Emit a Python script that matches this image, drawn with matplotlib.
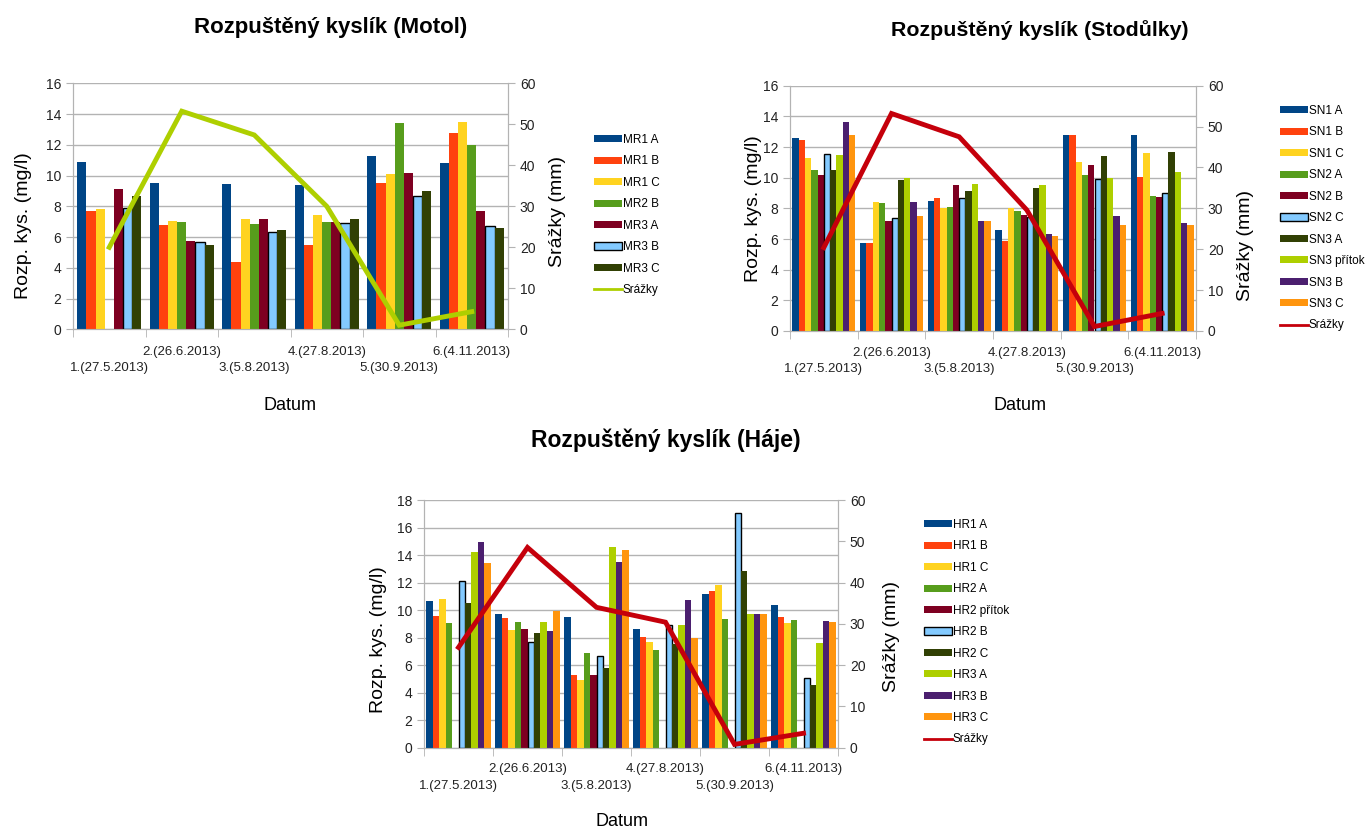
import numpy as np
import matplotlib
matplotlib.use("Agg")
import matplotlib.pyplot as plt
from matplotlib.patches import Patch
from matplotlib.lines import Line2D
from matplotlib.ticker import MultipleLocator, FixedLocator, NullFormatter
from matplotlib.transforms import blended_transform_factory

nan = np.nan

# ---------------- data ----------------
dates = ['1.(27.5.2013)', '2.(26.6.2013)', '3.(5.8.2013)',
         '4.(27.8.2013)', '5.(30.9.2013)', '6.(4.11.2013)']

motol_names = ['MR1 A', 'MR1 B', 'MR1 C', 'MR2 B', 'MR3 A', 'MR3 B', 'MR3 C']
motol_values = [
    [10.9, 9.5, 9.45, 9.4, 11.3, 10.8],
    [7.7, 6.8, 4.4, 5.5, 9.5, 12.75],
    [7.8, 7.05, 7.2, 7.45, 10.1, 13.5],
    [nan, 7.0, 6.85, 7.0, 13.4, 12.0],
    [9.1, 5.75, 7.15, 7.0, 10.15, 7.7],
    [7.9, 5.65, 6.35, 6.9, 8.7, 6.75],
    [8.7, 5.5, 6.45, 7.15, 9.0, 6.6],
]
motol_rain = [20.0, 53.2, 47.4, 30.0, 1.0, 4.3]

stod_names = ['SN1 A', 'SN1 B', 'SN1 C', 'SN2 A', 'SN2 B', 'SN2 C',
              'SN3 A', 'SN3 přítok', 'SN3 B', 'SN3 C']
stod_values = [
    [12.6, 5.75, 8.5, 6.6, 12.8, 12.8],
    [12.45, 5.75, 8.7, 5.9, 12.8, 10.05],
    [11.3, 8.4, 8.0, 8.0, 11.0, 11.6],
    [10.5, 8.35, 8.1, 7.8, 10.2, 8.8],
    [10.15, 7.2, 9.55, 7.55, 10.8, 8.75],
    [11.55, 7.4, 8.7, 7.45, 9.9, 9.0],
    [10.5, 9.85, 9.1, 9.35, 11.4, 11.7],
    [11.5, 10.0, 9.6, 9.55, 10.0, 10.4],
    [13.6, 8.4, 7.2, 6.35, 7.5, 7.05],
    [12.8, 7.5, 7.2, 6.2, 6.9, 6.9],
]
stod_rain = [20.4, 53.2, 47.5, 29.6, 1.1, 4.3]

haje_names = ['HR1 A', 'HR1 B', 'HR1 C', 'HR2 A', 'HR2 přítok', 'HR2 B',
              'HR2 C', 'HR3 A', 'HR3 B', 'HR3 C']
haje_values = [
    [10.65, 9.75, 9.5, 8.6, 11.2, 10.35],
    [9.55, 9.45, 5.3, 8.05, 11.4, 9.5],
    [10.8, 8.55, 4.9, 7.65, 11.8, 9.05],
    [9.05, 9.15, 6.85, 7.1, 9.35, 9.3],
    [nan, 8.65, 5.25, nan, nan, nan],
    [12.1, 7.7, 6.65, 8.9, 17.05, 5.1],
    [10.55, 8.35, 5.8, 7.5, 12.85, 4.55],
    [14.25, 9.1, 14.55, 8.9, 9.75, 7.6],
    [14.95, 8.45, 13.5, 10.7, 9.75, 9.2],
    [13.4, 9.9, 14.35, 8.0, 9.7, 9.15],
]
haje_rain = [24.3, 48.5, 34.0, 30.4, 0.8, 3.5]

palette = ['#004586', '#ff420e', '#ffd320', '#579d1c', '#7e0021', '#83caff',
           '#314004', '#aecf00', '#4b1f6f', '#ff950e', '#c5000b']

FONT = ['Liberation Sans', 'DejaVu Sans']
GRID = '#b3b3b3'
TXT = '#222222'

W, H = 1366, 831
fig = plt.figure(figsize=(W / 100, H / 100), dpi=100)


def fx(px):
    return px / W


def fy(py):
    return 1 - py / H


def panel(box, title, title_xy, title_size, names, values, rain, line_color,
          ymax, datum_xy, legend_xy, ylab, rlab, frac, rows):
    l, t, r, b = box
    ax = fig.add_axes([fx(l), fy(b), fx(r - l), (b - t) / H])
    ax2 = ax.twinx()
    n = len(names)
    bw = frac / n
    x = np.arange(len(dates))
    handles = []
    for k, (nm, vals) in enumerate(zip(names, values)):
        col = palette[k]
        edged = col == '#83caff'
        off = -frac / 2 + bw * (k + 0.5)
        ax.bar(x + off, vals, width=bw, color=col,
               edgecolor='black' if edged else 'none',
               linewidth=1.0 if edged else 0, zorder=3)
        handles.append(Patch(facecolor=col,
                             edgecolor='black' if edged else col,
                             linewidth=1.0 if edged else 0))
    ax2.plot(x, rain, color=line_color, lw=3.5, solid_joinstyle='miter',
             zorder=5)
    handles.append(Line2D([0], [0], color=line_color, lw=2))
    labels = list(names) + ['Srážky']

    ax.set_xlim(-0.5, len(dates) - 0.5)
    ax.set_ylim(0, ymax)
    ax2.set_ylim(0, 60)
    ax.yaxis.set_major_locator(MultipleLocator(2))
    ax2.yaxis.set_major_locator(MultipleLocator(10))
    ax.grid(axis='y', color=GRID, lw=1, zorder=0)
    ax.set_axisbelow(True)
    for a in (ax, ax2):
        a.spines['top'].set_visible(False)
        for s in ('left', 'right', 'bottom'):
            a.spines[s].set_color(GRID)
    for a in (ax, ax2):
        a.tick_params(axis='y', colors=GRID, labelcolor=TXT, length=5,
                      labelsize=10)
        for lab in a.get_yticklabels():
            lab.set_fontfamily(FONT)

    # x axis: tick marks at group boundaries, staggered date labels
    ax.set_xticks(x)
    ax.xaxis.set_major_formatter(NullFormatter())
    ax.tick_params(axis='x', which='major', length=0)
    ax.xaxis.set_minor_locator(FixedLocator(np.arange(-0.5, len(dates), 1.0)))
    ax.tick_params(axis='x', which='minor', length=6, color=GRID)
    hpx = b - t
    tr = blended_transform_factory(ax.transData, ax.transAxes)
    for i, d in enumerate(dates):
        dy = rows[1] if i % 2 == 0 else rows[0]
        ax.text(x[i], -dy / hpx, d, transform=tr, ha='center', va='center',
                fontsize=9.5, family=FONT, color=TXT)

    ax.set_ylabel('Rozp. kys. (mg/l)', fontsize=14, family=FONT)
    ax.yaxis.set_label_coords(*ylab)
    ax2.set_ylabel('Srážky (mm)', fontsize=14, family=FONT)
    ax2.yaxis.set_label_coords(*rlab)

    fig.text(fx(title_xy[0]), fy(title_xy[1]), title, ha='center',
             va='center', fontsize=title_size, fontweight='bold', family=FONT)
    fig.text(fx(datum_xy[0]), fy(datum_xy[1]), 'Datum', ha='center',
             va='center', fontsize=13, family=FONT)
    fig.legend(handles, labels, loc='upper left',
               bbox_to_anchor=(fx(legend_xy[0]), fy(legend_xy[1])),
               bbox_transform=fig.transFigure, frameon=False,
               prop={'family': FONT, 'size': 8.5},
               handlelength=2.35, handleheight=0.55, handletextpad=0.08,
               labelspacing=0.8, borderpad=0, borderaxespad=0)
    return ax, ax2


panel((73, 83.3, 508, 329.3), 'Rozpuštěný kyslík (Motol)', (331, 28), 16,
      motol_names, motol_values, motol_rain, palette[7], 16,
      (290, 405), (594, 134), (-0.094, 0.42), (1.094, 0.48), 0.88, (23, 39))

panel((790, 85.7, 1196, 331), 'Rozpuštěný kyslík (Stodůlky)', (1040, 30),
      15.4, stod_names, stod_values, stod_rain, palette[10], 16,
      (1020, 406), (1280, 105), (-0.069, 0.5), (1.101, 0.35), 0.93, (22, 38))

panel((424, 500, 838, 747.7), 'Rozpuštěný kyslík (Háje)', (666, 440), 16.5,
      haje_names, haje_values, haje_rain, palette[10], 18,
      (622, 822), (924, 519), (-0.089, 0.435), (1.109, 0.447), 0.94, (21, 38))

fig.savefig('out.png', dpi=100, facecolor='white')
